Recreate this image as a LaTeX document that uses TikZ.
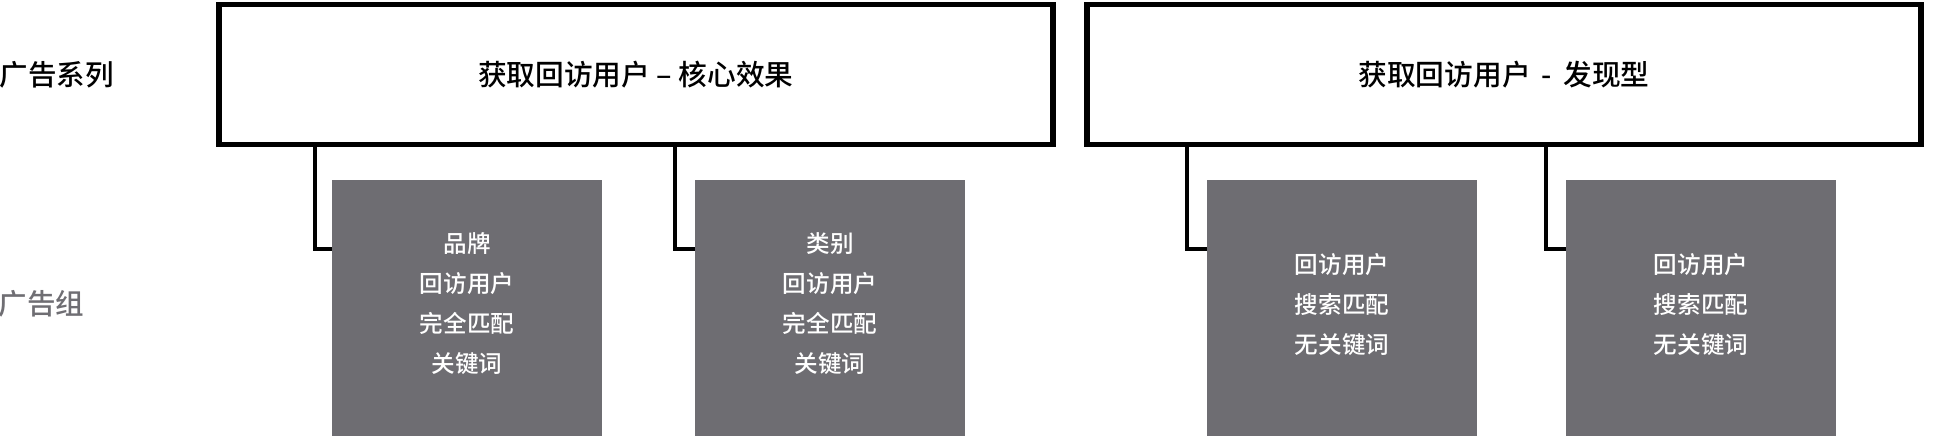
\documentclass[tikz,border=0pt]{standalone}
\usepackage{fontspec}
\setmainfont{Noto Sans CJK SC}
\newfontfamily\cjkm{Noto Sans CJK SC Medium}
\definecolor{boxgray}{HTML}{6E6D72}
\definecolor{labgray}{HTML}{6F6E73}
\tikzset{
  campaign/.style={draw=black, line width=5.7pt, fill=white, minimum width=834pt, minimum height=140pt, inner sep=0pt, font=\cjkm\fontsize{28.7}{32}\selectfont},
  adgroup/.style={fill=boxgray, text=white, minimum width=270pt, minimum height=256pt, inner sep=0pt},
  grouptext/.style={text=white, align=center, inner sep=0pt, font=\cjkm\fontsize{23.6}{40}\selectfont},
  link/.style={draw=black, line width=4pt},
  rowlabel/.style={anchor=west, inner sep=0pt, font=\cjkm\fontsize{28.5}{32}\selectfont}
}
\begin{document}
\begin{tikzpicture}[x=1pt,y=-1pt]
\useasboundingbox (0,0) rectangle (1960,436);
\node[adgroup] (g1) at (467,308) {};
\node[adgroup] (g2) at (830,308) {};
\node[adgroup] (g3) at (1342,308) {};
\node[adgroup] (g4) at (1701,308) {};
\node[campaign] (c1) at (635.8,74.5) {获取回访用户 – 核心效果};
\node[campaign] (c2) at (1504,74.5) {获取回访用户 \,-\, 发现型};
\node[grouptext] (t1) at (467,304) {品牌\\回访用户\\完全匹配\\关键词};
\node[grouptext] (t2) at (830,304) {类别\\回访用户\\完全匹配\\关键词};
\node[grouptext] (t3) at (1342,305) {回访用户\\搜索匹配\\无关键词};
\node[grouptext] (t4) at (1701,305) {回访用户\\搜索匹配\\无关键词};
\coordinate (k1) at (314.5,249.3);
\coordinate (k2) at (675,249.3);
\coordinate (k3) at (1186.7,249.3);
\coordinate (k4) at (1545.5,249.3);
\draw[link] (c1.south -| k1) -- (k1) -- (k1 -| g1.west);
\draw[link] (c1.south -| k2) -- (k2) -- (k2 -| g2.west);
\draw[link] (c2.south -| k3) -- (k3) -- (k3 -| g3.west);
\draw[link] (c2.south -| k4) -- (k4) -- (k4 -| g4.west);
\node[rowlabel] (l1) at (-0.5,75) {广告系列};
\node[rowlabel, text=labgray] (l2) at (-1.5,304) {广告组};
\end{tikzpicture}
\end{document}
